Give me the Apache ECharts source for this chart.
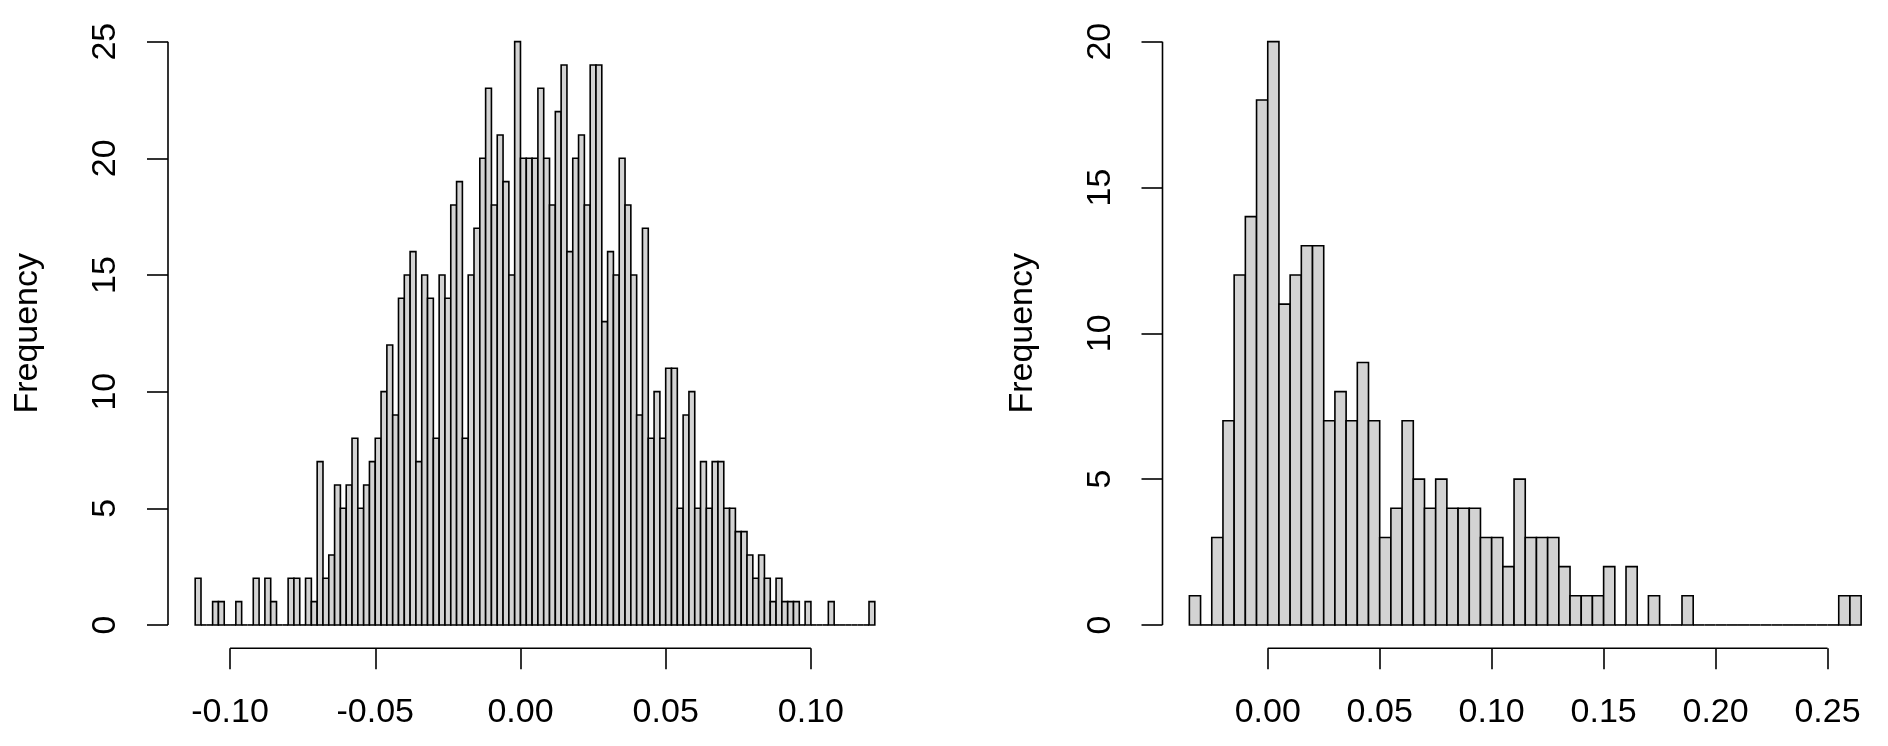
<!DOCTYPE html>
<html>
<head>
<meta charset="utf-8">
<script src="https://cdn.jsdelivr.net/npm/echarts@6/dist/echarts.min.js"></script>
<style>
  html, body { margin: 0; padding: 0; background: #ffffff; }
  #chart { width: 1888px; height: 746px; }
</style>
</head>
<body>
<div id="chart"></div>
<script>
// ---------------- data ----------------
// Left histogram: bins of width 0.002 starting at -0.112
const leftBinStart = -0.112;
const leftBinWidth = 0.002;
const leftCounts = [
  2, 0, 0, 1, 1, 0, 0, 1, 0, 0, 2, 0, 2, 1, 0, 0, 2, 2, 0, 2,
  1, 7, 2, 3, 6, 5, 6, 8, 5, 6, 7, 8, 10, 12, 9, 14, 15, 16, 7, 15,
  14, 8, 15, 14, 18, 19, 8, 15, 17, 20, 23, 18, 21, 19, 15, 25, 20, 20, 20, 23,
  20, 18, 22, 24, 16, 20, 21, 18, 24, 24, 13, 16, 15, 20, 18, 15, 9, 17, 8, 10,
  8, 11, 11, 5, 9, 10, 5, 7, 5, 7, 7, 5, 5, 4, 4, 3, 2, 3, 2, 1,
  2, 1, 1, 1, 0, 1, 0, 0, 0, 1, 0, 0, 0, 0, 0, 0, 1
];
const leftXTicks = [-0.10, -0.05, 0.00, 0.05, 0.10];
const leftYTicks = [0, 5, 10, 15, 20, 25];

// Right histogram: bins of width 0.005 starting at -0.035
const rightBinStart = -0.035;
const rightBinWidth = 0.005;
const rightCounts = [
  1, 0, 3, 7, 12, 14, 18, 20, 11, 12,
  13, 13, 7, 8, 7, 9, 7, 3, 4, 7,
  5, 4, 5, 4, 4, 4, 3, 3, 2, 5,
  3, 3, 3, 2, 1, 1, 1, 2, 0, 2,
  0, 1, 0, 0, 1, 0, 0, 0, 0, 0,
  0, 0, 0, 0, 0, 0, 0, 0, 1, 1
];
const rightXTicks = [0.00, 0.05, 0.10, 0.15, 0.20, 0.25];
const rightYTicks = [0, 5, 10, 15, 20];

const yLabel = 'Frequency';

// ---------------- helpers ----------------
function bins(start, width, counts) {
  return counts.map((c, i) => [start + i * width, start + (i + 1) * width, c]);
}
// R-style axis range: data range extended by 4% on each side
function rRange(lo, hi) {
  const d = (hi - lo) * 0.04;
  return [lo - d, hi + d];
}

const FONT = "'Liberation Sans', Arial, Helvetica, sans-serif";
const FS = 34;
const LW = 1.6;

function renderBar(params, api) {
  const x0 = api.value(0), x1 = api.value(1), c = api.value(2);
  const p0 = api.coord([x0, 0]);
  const p1 = api.coord([x1, c]);
  if (c === 0) {
    return {
      type: 'line',
      shape: { x1: p0[0], y1: p0[1], x2: p1[0], y2: p0[1] },
      style: { stroke: '#000', lineWidth: LW }
    };
  }
  return {
    type: 'rect',
    shape: { x: p0[0], y: p1[1], width: p1[0] - p0[0], height: p0[1] - p1[1] },
    style: { fill: '#d3d3d3', stroke: '#000', lineWidth: LW }
  };
}

const leftData = bins(leftBinStart, leftBinWidth, leftCounts);
const rightData = bins(rightBinStart, rightBinWidth, rightCounts);

const lx = rRange(leftBinStart, leftBinStart + leftCounts.length * leftBinWidth);
const ly = rRange(0, Math.max(...leftCounts));
const rx = rRange(rightBinStart, rightBinStart + rightCounts.length * rightBinWidth);
const ry = rRange(0, Math.max(...rightCounts));

function xAxisDef(gi, range, ticks) {
  return {
    type: 'value', gridIndex: gi, min: range[0], max: range[1], position: 'bottom',
    splitLine: { show: false },
    axisLine: { show: false, onZero: false },
    axisTick: { show: true, inside: false, customValues: ticks, length: 21, lineStyle: { color: '#000', width: LW } },
    axisLabel: {
      show: true, customValues: ticks, margin: 47,
      formatter: v => v.toFixed(2),
      color: '#000', fontFamily: FONT, fontSize: FS, lineHeight: FS
    }
  };
}
function yAxisDef(gi, range, ticks) {
  return {
    type: 'value', gridIndex: gi, min: range[0], max: range[1], position: 'left',
    splitLine: { show: false },
    axisLine: { show: false, onZero: false },
    axisTick: { show: true, inside: false, customValues: ticks, length: 21, lineStyle: { color: '#000', width: LW } },
    axisLabel: {
      show: true, customValues: ticks, margin: 45, rotate: 90,
      color: '#000', fontFamily: FONT, fontSize: FS, lineHeight: FS
    },
    name: yLabel, nameLocation: 'middle', nameRotate: 90, nameGap: 123,
    nameTextStyle: { color: '#000', fontFamily: FONT, fontSize: FS, lineHeight: FS }
  };
}
function axisLines(gi, xr, yr, xt, yt) {
  const common = {
    type: 'line', xAxisIndex: gi, yAxisIndex: gi, symbol: 'none', clip: false,
    silent: true, animation: false, z: 5,
    lineStyle: { color: '#000', width: LW }
  };
  return [
    Object.assign({}, common, { data: [[xr[0], yt[0]], [xr[0], yt[yt.length - 1]]] }),
    Object.assign({}, common, { data: [[xt[0], yr[0]], [xt[xt.length - 1], yr[0]]] })
  ];
}

const chart = echarts.init(document.getElementById('chart'), null, { renderer: 'canvas' });
chart.setOption({
  backgroundColor: '#ffffff',
  animation: false,
  grid: [
    { left: 168, top: 18.3, width: 734, height: 630 },
    { left: 1162.5, top: 18.3, width: 734, height: 630 }
  ],
  xAxis: [xAxisDef(0, lx, leftXTicks), xAxisDef(1, rx, rightXTicks)],
  yAxis: [yAxisDef(0, ly, leftYTicks), yAxisDef(1, ry, rightYTicks)],
  series: [
    { type: 'custom', xAxisIndex: 0, yAxisIndex: 0, renderItem: renderBar, data: leftData,
      encode: { x: [0, 1], y: 2 }, clip: false, silent: true },
    { type: 'custom', xAxisIndex: 1, yAxisIndex: 1, renderItem: renderBar, data: rightData,
      encode: { x: [0, 1], y: 2 }, clip: false, silent: true },
    ...axisLines(0, lx, ly, leftXTicks, leftYTicks),
    ...axisLines(1, rx, ry, rightXTicks, rightYTicks)
  ]
});
</script>
</body>
</html>
